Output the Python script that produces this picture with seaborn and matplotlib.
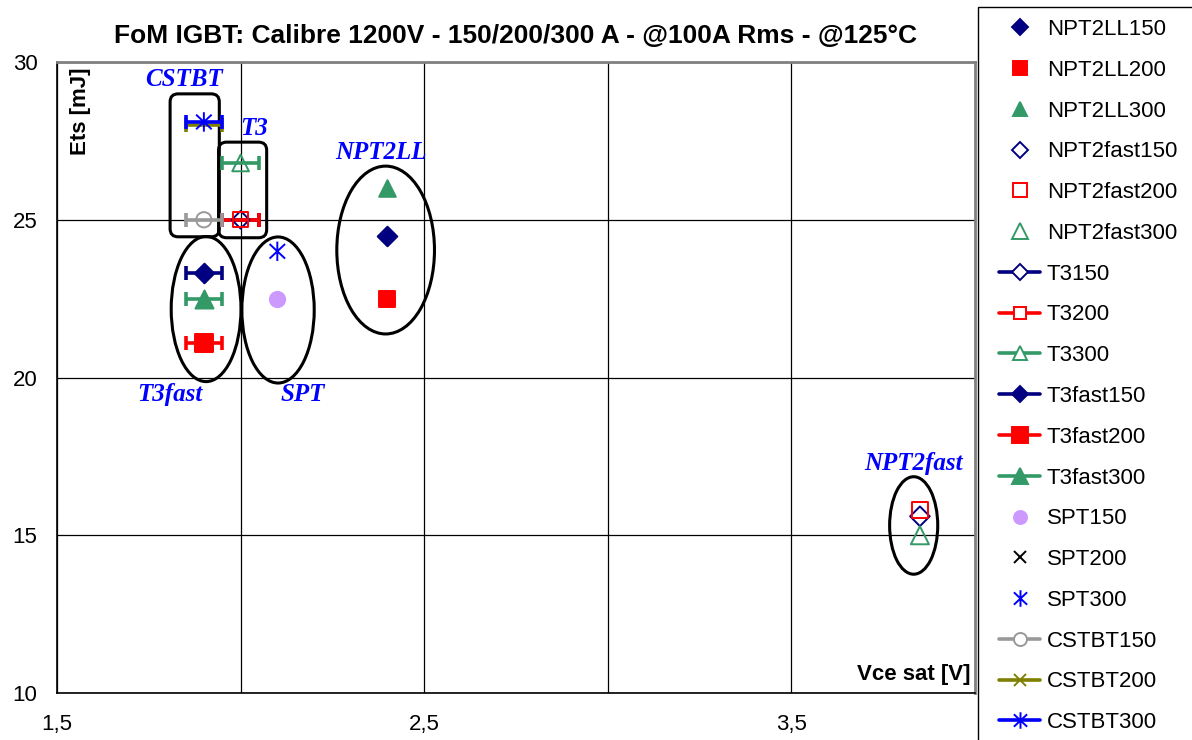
import numpy as np
import matplotlib
matplotlib.use("Agg")
import matplotlib.pyplot as plt
import seaborn as sns
from matplotlib.path import Path
from matplotlib.lines import Line2D
from matplotlib.patches import Ellipse, FancyBboxPatch, Rectangle

# Data (Vce sat [V], Ets [mJ])
series = ["NPT2LL150", "NPT2LL200", "NPT2LL300",
          "NPT2fast150", "NPT2fast200", "NPT2fast300",
          "T3150", "T3200", "T3300",
          "T3fast150", "T3fast200", "T3fast300",
          "SPT150", "SPT200", "SPT300",
          "CSTBT150", "CSTBT200", "CSTBT300"]
vce = [2.4, 2.4, 2.4,
       3.85, 3.85, 3.85,
       2.0, 2.0, 2.0,
       1.9, 1.9, 1.9,
       2.1, 2.1, 2.1,
       1.9, 1.9, 1.9]
ets = [24.5, 22.5, 26.0,
       15.6, 15.8, 15.0,
       25.0, 25.0, 26.8,
       23.3, 21.1, 22.5,
       22.5, 20.5, 24.0,
       25.0, 28.0, 28.1]
vce_err = [0, 0, 0,
           0, 0, 0,
           0.05, 0.05, 0.05,
           0.05, 0.05, 0.05,
           0, 0, 0,
           0.05, 0.05, 0.05]

x_ticks = [1.5, 2.5, 3.5]
x_ticklabels = ["1,5", "2,5", "3,5"]
y_ticks = [10, 15, 20, 25, 30]

# family labels
groups = ["CSTBT", "T3", "NPT2LL", "T3fast", "SPT", "NPT2fast"]
group_x = [1.846, 2.037, 2.383, 1.808, 2.17, 3.833]
group_y = [29.43, 27.88, 27.12, 19.45, 19.45, 17.26]

# styles
navy, red, green = "#000080", "#FF0000", "#339966"
star = Path([(0, -1), (0, 1), (-0.8, -0.75), (0.8, 0.75), (-0.8, 0.75), (0.8, -0.75)],
            [Path.MOVETO, Path.LINETO, Path.MOVETO, Path.LINETO, Path.MOVETO, Path.LINETO])
style = {
    "NPT2LL150": (navy, "D", True, 10), "NPT2LL200": (red, "s", True, 12),
    "NPT2LL300": (green, "^", True, 12),
    "NPT2fast150": (navy, "D", False, 10), "NPT2fast200": (red, "s", False, 12),
    "NPT2fast300": (green, "^", False, 13),
    "T3150": (navy, "D", False, 9), "T3200": (red, "s", False, 11),
    "T3300": (green, "^", False, 12),
    "T3fast150": (navy, "D", True, 10), "T3fast200": (red, "s", True, 13),
    "T3fast300": (green, "^", True, 13),
    "SPT150": ("#CC99FF", "o", True, 11), "SPT200": ("black", "x", False, 10),
    "SPT300": ("#0000FF", star, False, 14),
    "CSTBT150": ("#999999", "o", False, 11), "CSTBT200": ("#808000", "x", False, 10),
    "CSTBT300": ("#0000FF", star, False, 14),
}

sns.set_theme(style="white")
plt.rcParams["font.family"] = ["Liberation Sans", "DejaVu Sans"]
plt.rcParams["text.color"] = "black"
plt.rcParams["axes.labelcolor"] = "black"
plt.rcParams["xtick.color"] = "black"
plt.rcParams["ytick.color"] = "black"

fig = plt.figure(figsize=(11.92, 7.40), dpi=100)
ax = fig.add_axes([57 / 1192, 47 / 740, 918 / 1192, 631 / 740])

handles = []
for name, x, y, xe in zip(series, vce, ets, vce_err):
    c, m, filled, ms = style[name]
    fc = c if filled else "none"
    if xe > 0:
        ax.errorbar([x], [y], xerr=[xe], fmt="none", ecolor=c, elinewidth=2.6,
                    capsize=5, capthick=2.6, zorder=3)
        sns.scatterplot(x=[x], y=[y], ax=ax, marker=m, s=ms ** 2,
                        facecolor=fc, edgecolor=c, linewidth=1.4, zorder=4)
        handles.append(Line2D([], [], color=c, lw=2.6, marker=m, markersize=ms * 0.85,
                              markerfacecolor=(c if filled else "white"),
                              markeredgecolor=c, markeredgewidth=1.4))
    else:
        sns.scatterplot(x=[x], y=[y], ax=ax, marker=m, s=ms ** 2,
                        facecolor=fc, edgecolor=c, linewidth=1.4, zorder=4)
        handles.append(Line2D([], [], color=c, lw=0, marker=m, markersize=ms * 0.85,
                              markerfacecolor=fc, markeredgecolor=c, markeredgewidth=1.4))

# grouping shapes
for cx, cy, w, h in [(1.906, 22.17, 0.19, 4.6), (2.102, 22.14, 0.197, 4.63),
                     (2.395, 24.04, 0.266, 5.32), (3.833, 15.31, 0.131, 3.09)]:
    ax.add_patch(Ellipse((cx, cy), w, h, fill=False, edgecolor="black", lw=2.2, zorder=2))
aspect = 367 / 31.55
for x0, x1, y0, y1 in [(1.808, 1.942, 24.46, 28.99), (1.94, 2.071, 24.43, 27.46)]:
    ax.add_patch(FancyBboxPatch((x0, y0), x1 - x0, y1 - y0,
                                boxstyle="round,pad=0,rounding_size=0.022",
                                mutation_aspect=aspect, fill=False,
                                edgecolor="black", lw=2.2, zorder=2))

for g, gx, gy in zip(groups, group_x, group_y):
    ax.text(gx, gy, g, color="#0000FF", fontsize=18, fontweight="bold", fontstyle="italic",
            family="Liberation Serif", ha="center", va="center")

ax.set_xlim(1.5, 4.0)
ax.set_ylim(10, 30)
ax.set_xticks(x_ticks)
ax.set_xticklabels(x_ticklabels)
ax.set_xticks([2.0, 3.0], minor=True)
ax.set_yticks(y_ticks)
ax.tick_params(axis="both", which="major", direction="out", length=6, width=1,
               color="black", labelsize=16, labelcolor="black")
ax.tick_params(axis="x", which="major", pad=9)
ax.tick_params(axis="y", which="major", pad=8)
ax.tick_params(axis="x", which="minor", length=0)
ax.grid(True, which="both", color="black", lw=0.9)
for s in ["left", "bottom"]:
    ax.spines[s].set_color("black")
    ax.spines[s].set_linewidth(1.2)
for s in ["top", "right"]:
    ax.spines[s].set_color("#808080")
    ax.spines[s].set_linewidth(2)

ax.set_title("FoM IGBT: Calibre 1200V - 150/200/300 A - @100A Rms - @125°C",
             fontsize=19, fontweight="bold", pad=14, color="black")
ax.text(0.0256, 0.922, "Ets [mJ]", transform=ax.transAxes, rotation=90, fontsize=16,
        fontweight="bold", ha="center", va="center")
ax.text(0.9956, 0.02, "Vce sat [V]", transform=ax.transAxes, fontsize=16,
        fontweight="bold", ha="right", va="baseline")
ax.set_xlabel("")
ax.set_ylabel("")

fig.patches.append(Rectangle((978 / 1192, -0.05), 0.2, 1.05 - 7 / 740,
                             transform=fig.transFigure, fill=False,
                             edgecolor="black", lw=1, clip_on=False))
fig.legend(handles, series, loc="upper left", bbox_to_anchor=(999 / 1192, 1 - 19 / 740),
           frameon=False, fontsize=16, labelspacing=0.89, handlelength=1.85,
           handletextpad=0.3, borderpad=0, borderaxespad=0)

fig.savefig("out.png", dpi=100)
